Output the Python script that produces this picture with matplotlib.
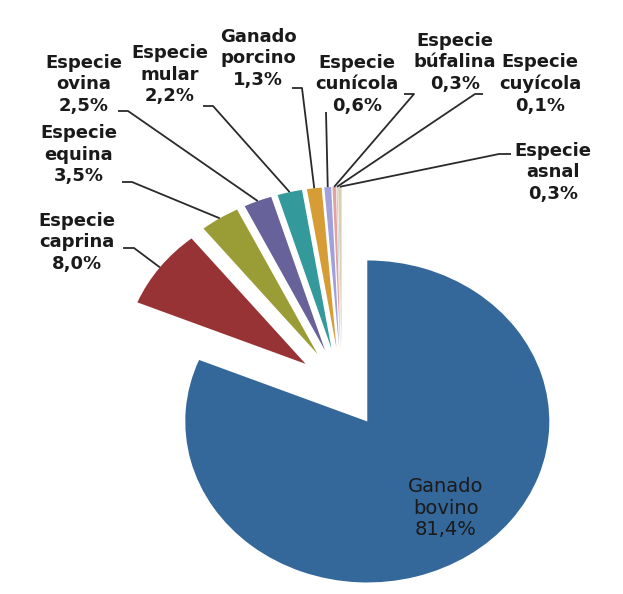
import numpy as np
import matplotlib
matplotlib.use("Agg")
import matplotlib.pyplot as plt

# ---- data ----
labels = ["Ganado\nbovino", "Especie\ncaprina", "Especie\nequina", "Especie\novina",
          "Especie\nmular", "Ganado\nporcino", "Especie\ncunícola", "Especie\nbúfalina",
          "Especie\ncuyícola", "Especie\nasnal"]
values = [81.4, 8.0, 3.5, 2.5, 2.2, 1.3, 0.6, 0.3, 0.1, 0.3]
pct_text = ["81,4%", "8,0%", "3,5%", "2,5%", "2,2%", "1,3%", "0,6%", "0,3%", "0,1%", "0,3%"]
colors = ["#34679A", "#983335", "#9A9C35", "#67639A", "#33999A", "#D69C35",
          "#A0A0DC", "#E0A4A0", "#C8C8D0", "#D8D0B0"]

# ---- layout (pixel positions of the reference image) ----
W, H = 623, 594
CX, CY = 342, 388          # pie centre in pixels
RX, RY = 182, 161          # horizontal / vertical radius in pixels (stretched image)

# label text centres (px) and leader knee/start points (px)
label_pos = [(446, 508), (77, 242), (79, 155), (84, 84), (170, 75), (258, 58),
             (357, 84), (455, 62), (540, 84), (553, 172)]
leader_start = [None, [(123, 248), (134, 248)], [(122, 182), (132, 182)],
                [(118, 111), (128, 111)], [(203, 106), (213, 106)],
                [(292, 88), (302, 88)], [(326, 112)], [(404, 94), (414, 94)],
                [(483, 94), (475, 94)], [(511, 154), (499, 154)]]

fig = plt.figure(figsize=(W / 100, H / 100), dpi=100)
ax = fig.add_axes([0, 0, 1, 1])

explode = [0.25] * len(values)
wedges, _ = ax.pie(values, colors=colors, startangle=90, counterclock=False,
                   explode=explode, radius=1.0, center=(0, 0), frame=True,
                   wedgeprops=dict(linewidth=0))
ax.set_xlim(-CX / RX, (W - CX) / RX)
ax.set_ylim((CY - H) / RY, CY / RY)
ax.set_aspect("auto")
ax.axis("off")


def px2d(p):
    return ((p[0] - CX) / RX, (CY - p[1]) / RY)


for i, w in enumerate(wedges):
    txt = labels[i] + "\n" + pct_text[i]
    tx, ty = px2d(label_pos[i])
    if i == 0:
        ax.text(tx, ty, txt, ha="center", va="center", fontsize=14,
                color="#1a1a1a", family="DejaVu Sans", linespacing=1.15)
        continue
    ax.text(tx, ty, txt, ha="center", va="center", fontsize=13, fontweight="bold",
            color="#1a1a1a", family="DejaVu Sans", linespacing=1.25)
    mid = np.deg2rad((w.theta1 + w.theta2) / 2)
    ox = w.center[0] + w.r * np.cos(mid)
    oy = w.center[1] + w.r * np.sin(mid)
    pts = [px2d(p) for p in leader_start[i]] + [(ox, oy)]
    xs, ys = zip(*pts)
    ax.plot(xs, ys, color="#2a2a2a", lw=1.3, solid_capstyle="butt")

fig.savefig("out.png", dpi=100, facecolor="white")
